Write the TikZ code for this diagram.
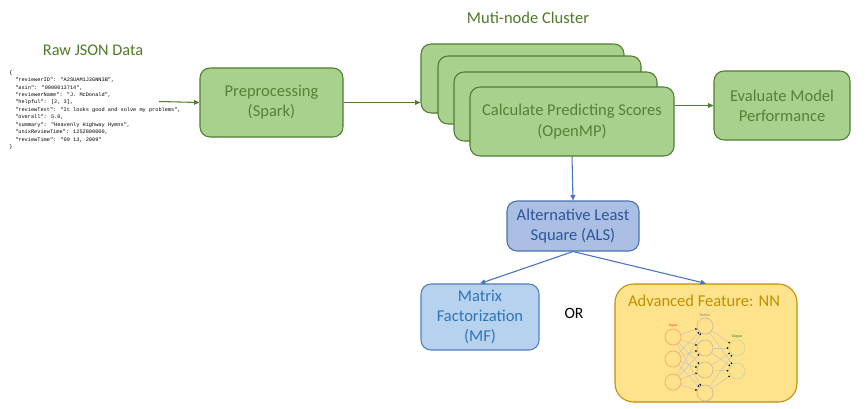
\documentclass[tikz,border=0pt]{standalone}
\usepackage{fontspec}
\setmainfont{Carlito}
\newfontfamily\jsonfont{Liberation Mono}
\newfontfamily\nnfont{Liberation Serif}
\usetikzlibrary{arrows.meta}
\definecolor{gfill}{HTML}{A9D18E}
\definecolor{gdraw}{HTML}{507E32}
\definecolor{gtext}{HTML}{548235}
\definecolor{gtitle}{HTML}{4E7A27}
\definecolor{alsfill}{HTML}{AABFE3}
\definecolor{alsdraw}{HTML}{4A70B0}
\definecolor{alstext}{HTML}{2F5597}
\definecolor{mffill}{HTML}{B7D2EE}
\definecolor{mfdraw}{HTML}{4E7FBF}
\definecolor{mftext}{HTML}{2E75B6}
\definecolor{nnfill}{HTML}{FFE28C}
\definecolor{nndraw}{HTML}{BF9000}
\definecolor{barrow}{HTML}{4472C4}
\definecolor{inc}{HTML}{F4A470}
\definecolor{hidc}{HTML}{C8B89A}
\definecolor{outc}{HTML}{C5DA9A}
\def\pxu{0.75pt}
\tikzset{
  gbox/.style={draw=gdraw, fill=gfill, line width=0.8pt, rounded corners=7.5pt,
    text=gtext, align=center, font=\fontsize{12.4}{15.2}\selectfont, inner sep=0pt},
  garrow/.style={draw=gdraw, line width=0.8pt, -{Triangle[length=4pt,width=3.5pt]}},
  barr/.style={draw=barrow, line width=0.8pt, -{Triangle[length=4pt,width=3.5pt]}},
  nnode/.style={circle, draw, line width=0.5pt, minimum size=16*\pxu, inner sep=0pt},
  nnedge/.style={draw=gray!45, line width=0.4pt, -{Triangle[length=1.3pt,width=1.3pt,black]}},
  jline/.style={anchor=west, inner sep=0pt, font=\jsonfont\fontsize{3.95}{4}\selectfont}
}
\begin{document}
\begin{tikzpicture}[x=0.75pt,y=-0.75pt]
\useasboundingbox (0,0) rectangle (867,408);

% Raw JSON
\node[text=gtitle, font=\fontsize{12.2}{15}\selectfont] (rawt) at (93,50) {Raw JSON Data};
\node[jline] (j0) at (9,73) {\{};
\node[jline] (j1) at (15,80.4) {"reviewerID": "A2SUAM1J3GNN3B",};
\node[jline] (j2) at (15,87.8) {"asin": "0000013714",};
\node[jline] (j3) at (15,95.2) {"reviewerName": "J. McDonald",};
\node[jline] (j4) at (15,102.6) {"helpful": [2, 3],};
\node[jline] (j5) at (15,110) {"reviewText": "It looks good and solve my problems",};
\node[jline] (j6) at (15,117.4) {"overall": 5.0,};
\node[jline] (j7) at (15,124.8) {"summary": "Heavenly Highway Hymns",};
\node[jline] (j8) at (15,132.2) {"unixReviewTime": 1252800000,};
\node[jline] (j9) at (15,139.6) {"reviewTime": "09 13, 2009"};
\node[jline] (j10) at (9,147) {\}};
\coordinate (jout) at (159,101.5);

% Preprocessing
\node[gbox, minimum width=143*\pxu, minimum height=69*\pxu] (pre) at (271.5,102.5) {Preprocessing\\(Spark)};

% Cluster
\node[text=gtitle, font=\fontsize{12.4}{14}\selectfont] (clt) at (528,18) {Muti-node Cluster};
\node[gbox, minimum width=203*\pxu, minimum height=69*\pxu] (c1) at (522.5,78.5) {};
\node[gbox, minimum width=203*\pxu, minimum height=68*\pxu] (c2) at (539.5,90) {};
\node[gbox, minimum width=203*\pxu, minimum height=69*\pxu] (c3) at (555.5,106.5) {};
\node[gbox, minimum width=204*\pxu, minimum height=69*\pxu] (c4) at (572,121.5) {Calculate Predicting Scores\\(OpenMP)};

% Evaluate
\node[gbox, minimum width=136*\pxu, minimum height=69*\pxu] (ev) at (782,105.5) {Evaluate Model\\Performance};

% ALS
\node[draw=alsdraw, fill=alsfill, line width=0.8pt, rounded corners=7.5pt, text=alstext,
  align=center, font=\fontsize{12.4}{15}\selectfont, inner sep=0pt,
  minimum width=132*\pxu, minimum height=50*\pxu] (als) at (573,226) {Alternative Least\\Square (ALS)};

% MF
\node[draw=mfdraw, fill=mffill, line width=0.8pt, rounded corners=7.5pt, text=mftext,
  align=center, font=\fontsize{12.4}{15}\selectfont, inner sep=0pt,
  minimum width=118*\pxu, minimum height=66*\pxu] (mf) at (480,317) {Matrix\\Factorization\\(MF)};

\node[font=\fontsize{11.8}{14}\selectfont] (or) at (574,313) {OR};

% NN box
\node[draw=nndraw, fill=nnfill, line width=0.8pt, rounded corners=14pt,
  minimum width=182*\pxu, minimum height=118*\pxu] (nn) at (706,343) {};
\node[text=nndraw, font=\fontsize{12.4}{14}\selectfont] (nnt) at (704,301) {Advanced Feature: NN};

% NN diagram
\foreach \i/\y in {1/337,2/359,3/382} \node[nnode, draw=inc] (in\i) at (673,\y) {};
\foreach \i/\y in {1/326,2/348,3/370,4/393} \node[nnode, draw=hidc] (h\i) at (705,\y) {};
\foreach \i/\y in {1/348,2/371} \node[nnode, draw=outc] (o\i) at (737,\y) {};
\node[text=red!70!orange, font=\nnfont\fontsize{2.8}{3}\selectfont, inner sep=0pt] (inl) at (673,326) {Input};
\node[text=gray, font=\nnfont\fontsize{2.8}{3}\selectfont, inner sep=0pt] (hl) at (705,315) {Hidden};
\node[text=green!50!black, font=\nnfont\fontsize{2.8}{3}\selectfont, inner sep=0pt] (ol) at (737,337) {Output};
\foreach \i in {1,2,3} \foreach \j in {1,2,3,4} \draw[nnedge] (in\i) -- (h\j);
\foreach \i in {1,2,3,4} \foreach \j in {1,2} \draw[nnedge] (h\i) -- (o\j);

% connectors
\draw[garrow] (jout) -- (pre.west);
\draw[garrow] (pre.east) -- (c1.west |- pre.east);
\draw[garrow] (c4.east |- ev.west) -- (ev.west);
\draw[barr] (c4.south) -- (als.north);
\draw[barr] (als.south) -- (mf.north);
\draw[barr] (als.south) -- (nn.north);
\end{tikzpicture}
\end{document}
